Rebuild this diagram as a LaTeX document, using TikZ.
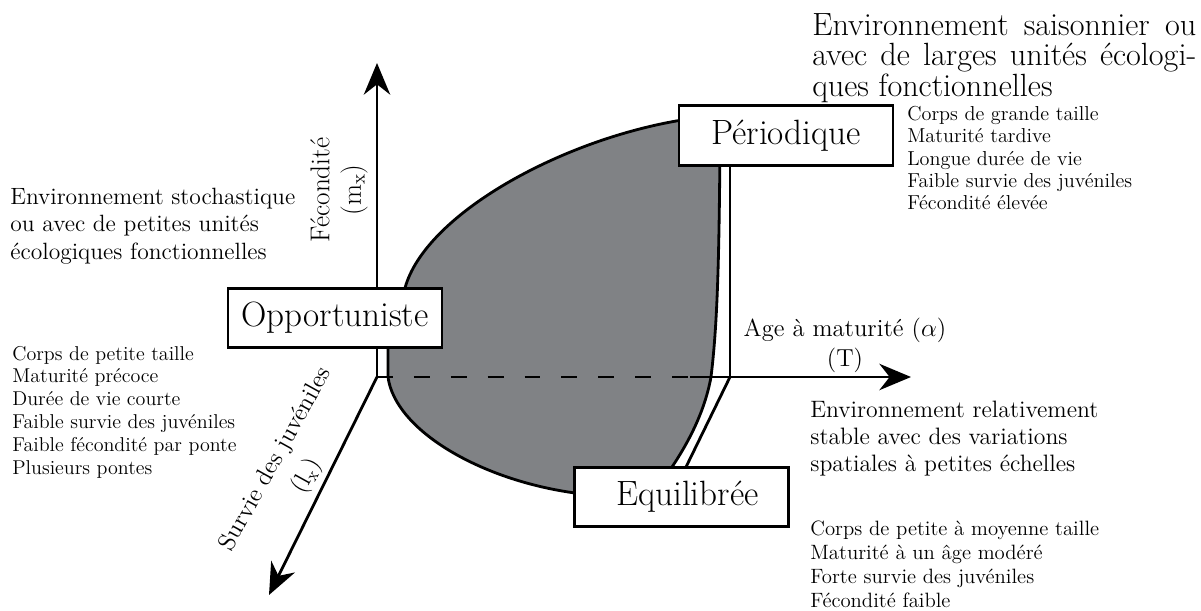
\documentclass[tikz,border=0pt]{standalone}
\usepackage{amsmath,amssymb}
\usepackage{fontspec}
\usepackage{xcolor}
\usepackage{tikz}
\usetikzlibrary{arrows.meta,positioning,calc}
\definecolor{blobgrey}{HTML}{808285}
\newcommand{\envfont}{\fontsize{13.4}{15.6}\selectfont}
\newcommand{\listfont}{\fontsize{11.4}{13}\selectfont}

\begin{document}
\begin{tikzpicture}[x=0.02cm,y=-0.02cm,
    strategy/.style={draw,line width=1.6pt,fill=white,minimum width=4.28cm,minimum height=1.19cm,inner sep=0pt,font=\fontsize{20}{24}\selectfont},
    axis/.style={line width=1.6pt,-{Stealth[length=18pt,width=15pt]}},
    edge/.style={line width=1.6pt},
    lbl/.style={inner sep=0pt,align=left,anchor=west}]
    \useasboundingbox (0,0) rectangle (1201,611);
    \coordinate (O) at (377,377);
    \coordinate (Top) at (377,63);
    \coordinate (Xs) at (690,377);
    \coordinate (Xe) at (911,377);
    \coordinate (Low) at (269,595);
    \coordinate (C) at (730,377);
    \coordinate (D) at (686,467);
    % strategy region
    \filldraw[fill=blobgrey,draw=black,line width=1.6pt]
      (388,330) -- (388,377)
      .. controls (395,430) and (480,480) .. (575,493)
      .. controls (620,495) and (660,485) .. (672,467)
      .. controls (690,440) and (705,410) .. (711,377)
      .. controls (718,320) and (719,250) .. (720,150)
      -- (682,120)
      .. controls (560,140) and (425,215) .. (405,288)
      -- cycle;
    \draw[edge,dash pattern=on 9pt off 12pt] (O) -- (Xs);
    \draw[axis] (Xs) -- (Xe);
    \draw[axis] (O) -- (Low);
    % strategies
    \node[strategy] (opp) at (335,318) {Opportuniste};
    \node[strategy] (per) at (786,135.5) {Périodique};
    \node[strategy] (equ) at (681.5,497) {\hspace*{0.24cm}Equilibrée};
    \draw[edge] (O) -- (O |- opp.south);
    \draw[axis] (O |- opp.north) -- (Top);
    \draw[edge] (C) -- (C |- per.south);
    \draw[edge] (C) -- (D);
    % axis labels
    \node[font=\fontsize{15.5}{18}\selectfont,align=center,rotate=90,inner sep=0pt] (fecLbl) at (339,190) {Fécondité\\($\mathrm{m}_{\mathrm{x}}$)};
    \node[font=\fontsize{14}{17}\selectfont,align=center,inner sep=0pt] (ageLbl) at (845,345) {Age à maturité ($\alpha$)\\(T)};
    \node[font=\fontsize{14}{20}\selectfont,align=center,rotate=61,inner sep=0pt] (survLbl) at (292,468) {Survie des juvéniles\\($\mathrm{l}_{\mathrm{x}}$)};
    % environments and traits
    \node[lbl,font=\envfont] (envOpp) at (10,226) {Environnement stochastique\\ou avec de petites unités\\écologiques fonctionnelles};
    \node[lbl,font=\listfont] (trOpp) at (12,412) {Corps de petite taille\\Maturité précoce\\Durée de vie courte\\Faible survie des juvéniles\\Faible fécondité par ponte\\Plusieurs pontes};
    \node[lbl,font=\fontsize{18.3}{17.3}\selectfont,text width=7.68cm,align=justify] (envPer) at (812,58) {Environnement saisonnier ou\linebreak avec de larges unités écologi-\linebreak ques fonctionnelles};
    \node[lbl,font=\fontsize{11.5}{12.6}\selectfont] (trPer) at (907,158) {Corps de grande taille\\Maturité tardive\\Longue durée de vie\\Faible survie des juvéniles\\Fécondité élevée};
    \node[lbl,font=\fontsize{13.5}{15.4}\selectfont] (envEqu) at (810,439) {Environnement relativement\\stable avec des variations\\spatiales à petites échelles};
    \node[lbl,font=\fontsize{11.8}{13.6}\selectfont] (trEqu) at (810,564) {Corps de petite à moyenne taille\\Maturité à un âge modéré\\Forte survie des juvéniles\\Fécondité faible};
  \end{tikzpicture}
\end{document}
